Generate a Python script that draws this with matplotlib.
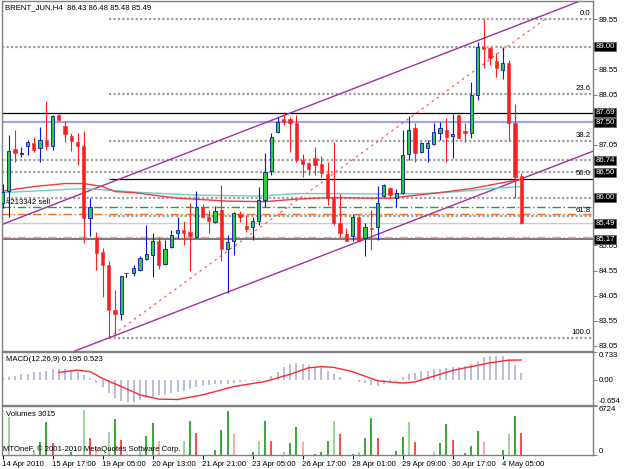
import matplotlib
matplotlib.use("Agg")
import matplotlib.pyplot as plt
import numpy as np

W, H = 625, 469
plt.rcParams['font.family'] = ['Liberation Sans', 'DejaVu Sans']

# ---- data -----------------------------------------------------------------
title_text = "BRENT_JUN,H4  86.43 86.48 85.48 85.49"

# H4 candles, bar 0 .. 83 (bar 20 is hidden under the "T" note)
opens = [85.89, 86.13, 86.96, 86.87, 87.03, 87.08, 86.98, 87.14, 87.03, 87.65,
         87.43, 87.22, 87.10, 87.03, 85.59, 85.20, 84.91, 84.66, 83.76, 83.68,
         None, 84.51, 84.56, 84.78, 84.85, 85.14, 84.69, 85.01, 85.29, 85.36,
         85.32, 85.22, 85.81, 85.61, 85.52, 85.75, 84.97, 85.14, 85.67, 85.44,
         85.41, 85.53, 85.95, 86.53, 87.31, 87.56, 87.56, 87.49, 86.75, 86.68,
         86.78, 86.67, 86.47, 85.99, 85.49, 85.27, 85.24, 85.61, 85.19, 85.39,
         85.41, 86.03, 86.20, 86.00, 86.09, 86.87, 87.38, 86.90, 86.99, 87.07,
         87.28, 87.34, 87.22, 87.64, 87.33, 87.28, 88.04, 88.99, 88.97, 88.72,
         88.54, 88.67, 87.48, 86.43]
highs = [86.28, 87.24, 87.34, 87.01, 87.14, 87.21, 87.40, 87.93, 87.64, 87.67,
         87.52, 87.29, 87.28, 87.33, 86.00, 85.32, 84.99, 84.73, 84.16, 84.45,
         None, 84.66, 84.84, 85.45, 85.29, 85.22, 85.16, 85.36, 85.61, 85.54,
         85.90, 86.13, 85.87, 85.75, 85.83, 86.25, 85.26, 85.72, 85.73, 85.65,
         85.62, 86.22, 86.89, 87.28, 87.61, 87.71, 87.61, 87.64, 86.86, 86.71,
         87.01, 86.83, 86.71, 87.11, 86.08, 85.39, 85.67, 85.62, 85.49, 85.75,
         86.23, 86.28, 86.22, 86.18, 87.34, 87.62, 87.48, 87.11, 87.14, 87.48,
         87.51, 87.58, 87.67, 87.64, 87.48, 88.30, 89.10, 89.55, 88.99, 88.87,
         89.00, 88.74, 87.86, 86.48]
lows = [85.79, 85.61, 86.71, 86.81, 86.85, 86.91, 86.71, 86.95, 86.95, 87.53,
        87.11, 86.93, 86.65, 85.09, 85.24, 84.56, 84.03, 83.21, 83.24, 83.57,
        None, 84.45, 84.55, 84.76, 84.43, 84.59, 84.66, 84.99, 85.19, 85.06,
        84.55, 85.19, 85.59, 85.30, 85.49, 84.73, 84.11, 84.86, 85.52, 85.32,
        85.16, 85.45, 85.82, 86.45, 87.28, 87.44, 86.91, 86.71, 86.42, 86.45,
        86.45, 86.42, 85.85, 85.45, 85.22, 85.14, 85.14, 85.14, 84.83, 84.96,
        85.16, 86.02, 85.99, 85.82, 86.07, 86.75, 86.71, 86.89, 86.71, 87.05,
        87.14, 86.71, 86.78, 87.18, 87.11, 87.19, 87.94, 88.57, 88.64, 88.40,
        88.35, 87.14, 85.99, 85.48]
closes = [86.12, 86.93, 86.89, 86.89, 87.10, 86.95, 87.14, 87.03, 87.62, 87.54,
          87.26, 87.12, 87.03, 85.60, 85.81, 84.90, 84.66, 83.76, 83.68, 84.45,
          None, 84.61, 84.79, 84.87, 85.14, 84.67, 84.98, 85.26, 85.36, 85.29,
          85.24, 85.81, 85.62, 85.54, 85.73, 84.98, 85.12, 85.69, 85.61, 85.37,
          85.53, 85.95, 86.51, 87.20, 87.51, 87.51, 87.49, 86.75, 86.67, 86.57,
          86.65, 86.48, 85.99, 85.49, 85.30, 85.14, 85.62, 85.14, 85.41, 85.37,
          85.90, 86.26, 86.05, 86.10, 86.85, 87.34, 86.88, 87.09, 87.08, 87.31,
          87.38, 87.20, 87.26, 87.18, 87.28, 88.04, 89.00, 88.95, 88.77, 88.57,
          88.68, 87.48, 86.42, 85.49]

# moving averages (bar, price) samples
ma_red_bars = [0, 5, 10, 13, 16, 18, 21, 28, 36, 42, 47, 52, 59, 62, 70, 75, 81, 83]
ma_red = [86.13, 86.22, 86.28, 86.28, 86.22, 86.12, 86.10, 85.99, 85.93, 85.92,
          85.97, 86.00, 85.99, 85.99, 86.10, 86.18, 86.32, 86.36]
ma_cyan_bars = [0, 8, 13, 18, 21, 26, 31, 41, 47, 52, 62, 67, 73, 78, 83]
ma_cyan = [86.10, 86.15, 86.18, 86.14, 86.11, 86.08, 86.05, 86.03, 86.08, 86.08,
           86.07, 86.08, 86.12, 86.18, 86.22]

# horizontal lines across the chart
hline_prices = [89.00, 87.69, 87.50, 86.74, 86.50, 86.00, 85.49, 85.17]
order_prices = [85.81, 85.67, 85.22]
box_labels = ["89.00", "87.69", "87.50", "86.74", "86.50", "86.00", "85.49", "85.17"]
price_ticks = [89.55, 89.05, 88.55, 88.05, 87.55, 87.05, 86.55, 86.05, 85.55,
               85.05, 84.55, 84.05, 83.55, 83.05]
hidden_ticks = [89.05, 87.55, 86.55, 86.05, 85.55]   # covered by the price boxes

# fibonacci retracement: from bar 17 low to 89.55
fib_start_bar, fib_end_bar = 17, 86.8
fib_low, fib_high = 83.21, 89.55
fib_ratios = [0.0, 0.236, 0.382, 0.5, 0.618, 1.0]
fib_names = ["0.0", "23.6", "38.2", "50.0", "61.8", "100.0"]

# channel trend lines, two anchor points each (bar, price)
channel_upper = [(0, 85.47), (92, 89.89)]
channel_lower = [(17, 83.21), (94, 86.90)]

# MACD(12,26,9) histogram, bar 0..83, and signal samples
macd_hist = [0.05, 0.07, 0.10, 0.15, 0.17, 0.20, 0.22, 0.24, 0.28, 0.28,
             0.28, 0.26, 0.22, 0.13, 0.06, -0.09, -0.17, -0.35, -0.48, -0.55,
             -0.57, -0.57, -0.52, -0.48, -0.44, -0.39, -0.38, -0.35, -0.32, -0.28,
             -0.24, -0.19, -0.16, -0.13, -0.10, -0.10, -0.10, -0.07, -0.05, -0.03,
             -0.03, -0.02, 0.01, 0.10, 0.22, 0.33, 0.42, 0.44, 0.42, 0.39,
             0.35, 0.31, 0.24, 0.17, 0.07, 0.00, -0.01, -0.04, -0.09, -0.13,
             -0.16, -0.10, -0.07, -0.02, 0.07, 0.15, 0.19, 0.23, 0.24, 0.28,
             0.30, 0.32, 0.35, 0.35, 0.37, 0.41, 0.51, 0.59, 0.64, 0.64,
             0.64, 0.55, 0.39, 0.195]
signal_bars = [9, 12, 14, 16, 19, 22, 25, 28, 32, 37, 42, 46, 49, 51, 53, 56, 60,
               64, 66, 69, 72, 75, 78, 81, 83]
signal_vals = [0.20, 0.26, 0.22, 0.04, -0.17, -0.39, -0.50, -0.51, -0.39, -0.17,
               -0.04, 0.15, 0.32, 0.35, 0.33, 0.22, -0.02, -0.08, -0.05, 0.10,
               0.25, 0.35, 0.45, 0.52, 0.523]

# volumes (only bars visible in the picture)
vol_bars = [1, 5, 6, 7, 8, 11, 13, 14, 15, 17, 18, 19, 22, 23, 24, 25, 29, 30, 31,
            34, 35, 36, 37, 40, 41, 42, 43, 45, 46, 47, 48, 50, 51, 52, 53, 54, 56,
            57, 58, 59, 60, 63, 64, 65, 66, 69, 70, 71, 72, 74, 75, 76, 77, 80, 81,
            82, 83]
volumes = [5250, 595, 1735, 4570, 1600, 457, 6165, 2375, 1140, 3105, 4930, 2055,
           685, 2650, 4340, 1965, 1920, 4700, 2970, 685, 3425, 6030, 2830, 457,
           1965, 4655, 1965, 457, 1690, 3790, 1735, 90, 457, 1920, 4700, 2830, 90,
           457, 2375, 5025, 2285, 550, 2465, 4520, 1735, 365, 1600, 4200, 2055,
           230, 1280, 3290, 1825, 685, 2830, 5345, 3015]
vol_kind = "ggGGrGgrRgGrgGGRgGrGGGRGgGrgGGRGGGgrGgGGrGGgrgGGrGGGRGgGr"

time_label_bars = [0, 8, 16, 24, 32, 40, 48, 56, 64, 72, 80]
time_labels = ["14 Apr 2010", "15 Apr 17:00", "19 Apr 05:00", "20 Apr 13:00",
               "21 Apr 21:00", "23 Apr 05:00", "26 Apr 17:00", "28 Apr 01:00",
               "29 Apr 09:00", "30 Apr 17:00", "4 May 05:00"]

# ---- layout -----------------------------------------------------------------
def px_box(x0, y0, x1, y1):
    return [x0 / W, 1 - y1 / H, (x1 - x0) / W, (y1 - y0) / H]

def ftext(x, y, s, **kw):
    fig.text(x / W, 1 - y / H, s, **kw)

XL, XR = -0.08, 94.48
GRAY = '#808080'
GREEN = '#2ecc40'
RED = '#ff1e1e'
FS = 5.6

fig = plt.figure(figsize=(W / 100, H / 100), dpi=100)
ax = fig.add_axes(px_box(2, 1, 593, 351))
ax_m = fig.add_axes(px_box(2, 352, 593, 405))
ax_v = fig.add_axes(px_box(2, 406, 593, 455))

for a in (ax, ax_m, ax_v):
    a.set_xlim(XL, XR)
    for s in a.spines.values():
        s.set_color(GRAY)
        s.set_linewidth(1)
    a.yaxis.tick_right()
    a.tick_params(axis='y', length=3, width=0.7, colors=GRAY, labelcolor='black',
                  labelsize=FS, pad=1)
    a.set_xticks([])

# ---- price panel ------------------------------------------------------------
ax.set_ylim(82.95, 89.91)
ax.set_yticks(price_ticks)
ax.set_yticklabels(["" if p in hidden_ticks else f"{p:.2f}" for p in price_ticks])

o = np.array(opens, dtype=float)
h = np.array(highs, dtype=float)
l = np.array(lows, dtype=float)
c = np.array(closes, dtype=float)
x = np.arange(len(o))
ok = ~np.isnan(o)
up = ok & (c >= o)
dn = ok & (c < o)

# horizontal levels
line_styles = [dict(color='#a0a0a0', lw=1.6, ls=(0, (1, 1))),
               dict(color='black', lw=0.9, ls='-'),
               dict(color='#a4a4e4', lw=1.6, ls='-'),
               dict(color='#a0a0a0', lw=1.6, ls=(0, (1, 1))),
               dict(color='#a0a0a0', lw=1.6, ls=(0, (1, 1))),
               dict(color='#a0a0a0', lw=1.6, ls=(0, (1, 1))),
               dict(color='#cccccc', lw=1.0, ls='-'),
               dict(color='#606060', lw=1.2, ls='-')]
for p, st in zip(hline_prices, line_styles):
    ax.axhline(p, zorder=1, **st)

order_colors = ['#2f9a2f', '#ff6a1a', '#ff9a9a']
for p, col in zip(order_prices, order_colors):
    ax.axhline(p, color=col, lw=1.0, ls=(0, (6, 2, 1, 2)), zorder=1)

# fibonacci levels
fib_levels = [fib_high - r * (fib_high - fib_low) for r in fib_ratios]
for lev, name in zip(fib_levels, fib_names):
    col = 'black' if name == "50.0" else '#a0a0a0'
    ls = '-' if name == "50.0" else (0, (1, 1))
    lw = 0.9 if name == "50.0" else 1.6
    ax.hlines(lev, fib_start_bar, XR, color=col, lw=lw, ls=ls, zorder=1)
    ax.text(0.996, lev + 0.04, name, transform=ax.get_yaxis_transform(),
            ha='right', va='bottom', fontsize=FS, color='black')
ax.plot([fib_start_bar, fib_end_bar], [fib_low, fib_high], color='#ff5a5a',
        lw=0.9, ls=(0, (2, 3)), zorder=2)

# channel
for pts in (channel_upper, channel_lower):
    ax.axline(pts[0], pts[1], color='#a030a0', lw=1.0, zorder=2)

# moving averages
ax.plot(ma_cyan_bars, ma_cyan, color='#6ccfc4', lw=1.0, zorder=2)
ax.plot(ma_red_bars, ma_red, color='#f03c3c', lw=1.0, zorder=2)

# candles
ax.vlines(x[up], l[up], h[up], color='#1010e0', lw=0.8, zorder=3)
ax.vlines(x[dn], l[dn], h[dn], color=RED, lw=0.8, zorder=3)
body = np.maximum(np.abs(c - o), 0.025)
ax.bar(x[up], body[up], bottom=np.minimum(o, c)[up], width=0.55, color=GREEN,
       edgecolor='#1010b0', linewidth=0.6, zorder=4)
ax.bar(x[dn], body[dn], bottom=np.minimum(o, c)[dn], width=0.55, color=RED,
       edgecolor=RED, linewidth=0.4, zorder=4)

# price boxes on the right axis
for lab in box_labels:
    ax.text(1.004, float(lab), lab, transform=ax.get_yaxis_transform(), ha='left',
            va='center', fontsize=FS, color='white', clip_on=False, zorder=10,
            bbox=dict(boxstyle='square,pad=0.12', fc='black', ec='#606060', lw=0.5))

ftext(5, 8, title_text, fontsize=FS, va='center')
ftext(6, 202, "#213342 sell", fontsize=FS, va='center')
ftext(124, 277, "T", fontsize=6, va='center')

# ---- MACD panel -------------------------------------------------------------
ax_m.set_ylim(-0.654, 0.733)
ax_m.set_yticks([0.733, 0.0, -0.654])
ax_m.set_yticklabels(["0.733", "0.00", "-0.654"])
for lbl, va in zip(ax_m.get_yticklabels(), ['top', 'center', 'bottom']):
    lbl.set_va(va)
ax_m.vlines(np.arange(len(macd_hist)), 0, macd_hist, color='#bcbcdc', lw=1.4)
ax_m.plot(signal_bars, signal_vals, color='#ff2a2a', lw=1.0)
ax_m.text(0.006, 0.85, "MACD(12,26,9) 0.195 0.523", transform=ax_m.transAxes,
          fontsize=FS, va='center')

# ---- volume panel -----------------------------------------------------------
ax_v.set_ylim(0, 6724)
ax_v.set_yticks([6724, 0])
ax_v.set_yticklabels(["6724", "0"])
for lbl, va in zip(ax_v.get_yticklabels(), ['top', 'bottom']):
    lbl.set_va(va)
kind_color = {'g': '#86d086', 'G': '#139c13', 'r': '#ff2a2a', 'R': '#ff9a9a'}
ax_v.vlines(vol_bars, 0, volumes, colors=[kind_color[k] for k in vol_kind], lw=1.2)
ax_v.text(0.006, 0.82, "Volumes 3015", transform=ax_v.transAxes, fontsize=FS,
          va='center')
ftext(3, 449, "MTOneF, \u00a9 2001-2010 MetaQuotes Software Corp.", fontsize=FS,
      va='center')

ax_v.set_xticks(time_label_bars)
ax_v.set_xticklabels(time_labels)
ax_v.tick_params(axis='x', length=3, width=0.7, colors='black', labelsize=FS, pad=1.5)
for lbl in ax_v.get_xticklabels():
    lbl.set_ha('left')

fig.savefig("out.png", dpi=100, facecolor='white')
